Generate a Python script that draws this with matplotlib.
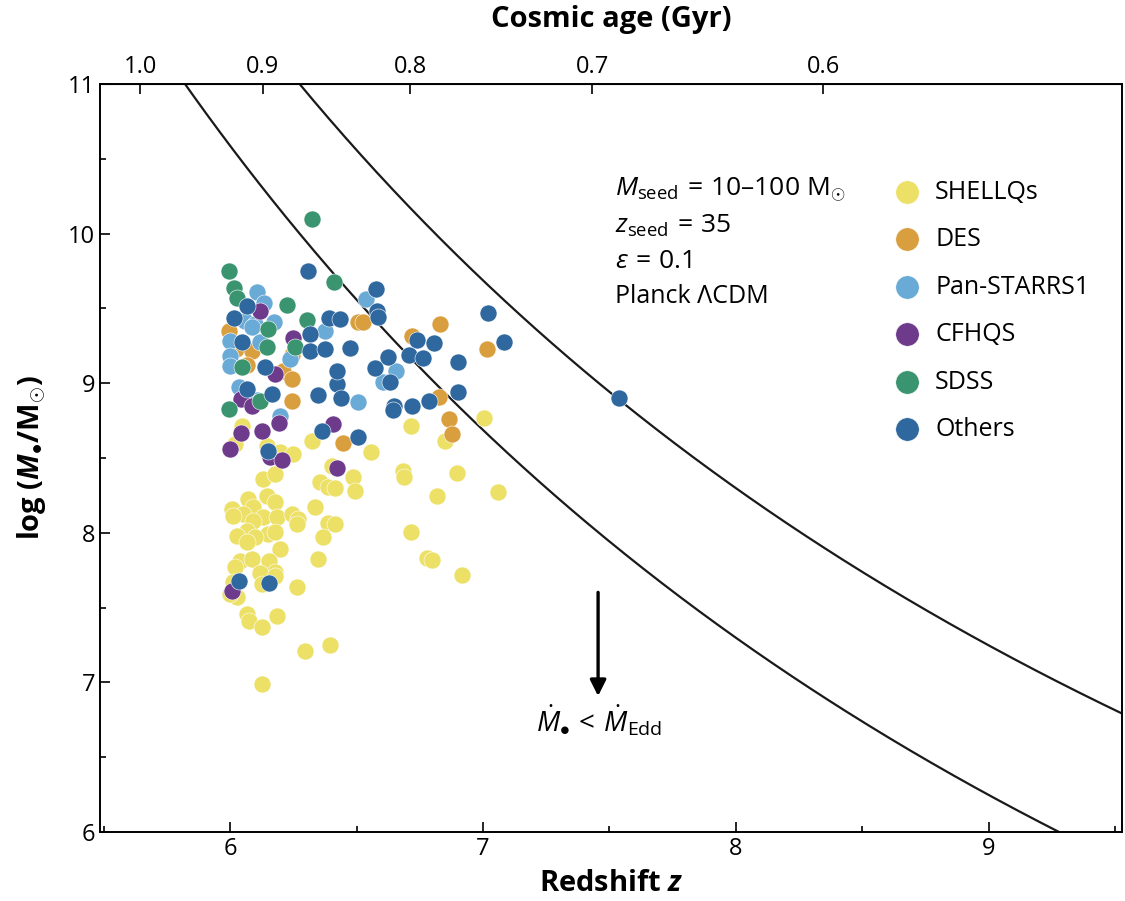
import numpy as np
import matplotlib
matplotlib.use("Agg")
import matplotlib.pyplot as plt

plt.rcParams['font.family'] = ['Open Sans', 'DejaVu Sans']
plt.rcParams['mathtext.fontset'] = 'custom'
plt.rcParams['mathtext.rm'] = 'Open Sans'
plt.rcParams['mathtext.it'] = 'Open Sans:italic'
plt.rcParams['mathtext.bf'] = 'Open Sans:bold'
plt.rcParams['mathtext.bfit'] = 'Open Sans:bold:italic'

# quasar samples: redshift and log black hole mass
shellqs_z = [6.047, 6.324, 6.020, 6.146, 6.198, 6.249, 6.403, 6.130, 6.178, 6.356,
             6.387, 6.071, 6.146, 6.178, 6.008, 6.091, 6.051, 6.012, 6.336, 6.130,
             6.186, 6.245, 6.269, 6.265, 6.091, 6.387, 6.067, 6.028, 6.150, 6.178,
             6.099, 6.067, 6.368, 6.198, 6.040, 6.020, 6.087, 6.154, 6.178, 6.119,
             6.348, 6.012, 6.028, 6.000, 6.126, 6.178, 6.265, 6.067, 6.075, 6.126,
             6.186, 6.296, 6.395, 6.126, 6.557, 6.486, 6.494, 6.684, 6.688, 6.897,
             6.818, 7.059, 6.715, 6.779, 6.798, 6.917, 6.715, 6.850, 7.004, 6.415,
             6.415]
shellqs_m = [8.713, 8.613, 8.593, 8.580, 8.540, 8.527, 8.447, 8.360, 8.393, 8.340,
             8.307, 8.227, 8.247, 8.207, 8.160, 8.173, 8.127, 8.113, 8.173, 8.107,
             8.107, 8.127, 8.093, 8.060, 8.080, 8.067, 8.013, 7.980, 7.993, 8.007,
             7.973, 7.940, 7.973, 7.893, 7.813, 7.773, 7.827, 7.813, 7.740, 7.733,
             7.827, 7.673, 7.573, 7.593, 7.660, 7.713, 7.640, 7.460, 7.407, 7.373,
             7.447, 7.207, 7.247, 6.987, 8.540, 8.373, 8.280, 8.413, 8.373, 8.400,
             8.247, 8.273, 8.007, 7.833, 7.820, 7.720, 8.713, 8.613, 8.767, 8.060,
             8.300]

des_z = [5.996, 6.024, 6.087, 6.245, 6.067, 6.209, 6.245, 6.245, 6.506, 6.526,
         6.830, 6.719, 7.016, 6.826, 6.866, 6.877, 6.447]
des_m = [9.347, 9.227, 9.213, 9.187, 9.120, 9.080, 9.027, 8.880, 9.407, 9.407,
         9.393, 9.313, 9.227, 8.907, 8.760, 8.660, 8.600]

ps1_z = [6.107, 6.134, 6.059, 6.099, 6.174, 6.087, 6.000, 6.119, 6.000, 6.000,
         6.237, 6.375, 6.036, 6.107, 6.198, 6.538, 6.656, 6.605, 6.506]
ps1_m = [9.607, 9.533, 9.413, 9.393, 9.407, 9.373, 9.280, 9.273, 9.180, 9.113,
         9.160, 9.347, 8.973, 8.887, 8.780, 9.560, 9.080, 9.007, 8.873]

cfhqs_z = [6.119, 6.249, 6.178, 6.043, 6.087, 6.194, 6.043, 6.126, 6.407, 6.000,
           6.158, 6.206, 6.423, 6.008]
cfhqs_m = [9.480, 9.300, 9.060, 8.893, 8.847, 8.733, 8.667, 8.680, 8.727, 8.560,
           8.507, 8.487, 8.433, 7.613]

sdss_z = [6.324, 5.996, 6.411, 6.016, 6.028, 6.225, 6.304, 6.150, 6.146, 6.257,
          6.047, 6.119, 5.996]
sdss_m = [10.10, 9.747, 9.673, 9.633, 9.567, 9.520, 9.420, 9.360, 9.240, 9.240,
          9.107, 8.880, 8.827]

others_z = [6.308, 6.577, 6.067, 6.581, 6.585, 6.016, 6.391, 6.435, 6.047, 6.316,
            6.316, 6.375, 6.138, 6.067, 6.166, 6.348, 6.423, 6.423, 6.474, 6.739,
            6.806, 6.625, 6.573, 6.708, 6.763, 6.632, 6.439, 6.648, 6.644, 6.719,
            6.787, 6.901, 6.901, 7.020, 7.083, 7.538, 6.364, 6.506, 6.150, 6.036,
            6.154]
others_m = [9.747, 9.627, 9.513, 9.480, 9.440, 9.433, 9.433, 9.427, 9.273, 9.327,
            9.213, 9.227, 9.107, 8.960, 8.927, 8.920, 8.993, 9.080, 9.233, 9.287,
            9.267, 9.173, 9.100, 9.187, 9.167, 9.007, 8.900, 8.847, 8.820, 8.847,
            8.880, 8.940, 9.140, 9.467, 9.273, 8.900, 8.680, 8.640, 8.547, 7.680,
            7.667]

samples = [
    ("SHELLQs", shellqs_z, shellqs_m, "#ECE067"),
    ("DES", des_z, des_m, "#D99F3E"),
    ("Pan-STARRS1", ps1_z, ps1_m, "#6AAAD6"),
    ("CFHQS", cfhqs_z, cfhqs_m, "#6E3A8C"),
    ("SDSS", sdss_z, sdss_m, "#3A9470"),
    ("Others", others_z, others_m, "#2F689F"),
]

age_ticks = [1.0, 0.9, 0.8, 0.7, 0.6]
seed_masses = [10, 100]
z_seed = 35

# flat LCDM age-redshift relation
H0, Om = 69.4, 0.3
OL = 1 - Om
T = 977.8 / H0 * 2 / (3 * np.sqrt(OL))


def age(z):
    z = np.asarray(z, dtype=float)
    return T * np.arcsinh(np.sqrt(OL / Om) * np.clip(1 + z, 1e-3, None) ** -1.5)


def z_of_age(t):
    t = np.asarray(t, dtype=float)
    s = np.sinh(np.clip(t, 1e-4, None) / T) / np.sqrt(OL / Om)
    return s ** (-2 / 3) - 1


# Eddington-limited growth, e-folding time in Gyr
tau = 0.0383

fig = plt.figure(figsize=(11.25, 9.01), dpi=100)
ax = fig.add_axes([0.0889, 0.0766, 0.9084, 0.8302])

zz = np.linspace(5.4, 9.6, 400)
for ms in seed_masses:
    logm = np.log10(ms) + (age(zz) - age(z_seed)) / (tau * np.log(10))
    ax.plot(zz, logm, color='#1a1a1a', lw=1.6, zorder=2)

for name, z, m, c in samples:
    ax.scatter(z, m, s=150, color=c, edgecolor='white', linewidth=0.4,
               label=name, zorder=3)

ax.set_xlim(5.486, 9.526)
ax.set_ylim(6, 11)
ax.set_xticks([6, 7, 8, 9])
ax.set_xticks([5.5, 6.5, 7.5, 8.5, 9.5], minor=True)
ax.set_yticks([6, 7, 8, 9, 10, 11])
ax.set_yticks([6.5, 7.5, 8.5, 9.5, 10.5], minor=True)
ax.tick_params(axis='both', which='both', direction='in', labelsize=17,
               top=False, right=False)
ax.tick_params(which='major', length=7, width=1.2)
ax.tick_params(which='minor', length=4, width=1.2)
for sp in ax.spines.values():
    sp.set_linewidth(1.4)

ax.set_xlabel(r'Redshift $\boldsymbol{z}$', fontsize=21, fontweight='bold', labelpad=6)
ax.set_ylabel(r'log ($\boldsymbol{M}_{\bullet}$/M$_{\odot}$)', fontsize=21,
              fontweight='bold', labelpad=14)

sec = ax.secondary_xaxis('top', functions=(age, z_of_age))
sec.set_xticks(age_ticks)
sec.set_xticklabels([f'{a:.1f}' for a in age_ticks])
sec.tick_params(direction='in', length=7, width=1.2, labelsize=17)
sec.set_xlabel('Cosmic age (Gyr)', fontsize=21, fontweight='bold', labelpad=20)

# growth model parameters
tx = 7.52
ax.text(tx, 10.29, r'$M_{\mathrm{seed}}\, =\, 10$–$100\ \mathrm{M}_{\odot}$', fontsize=19, va='center')
ax.text(tx, 10.05, r'$z_{\mathrm{seed}}\, =\, 35$', fontsize=19, va='center')
ax.text(tx, 9.81, r'$\varepsilon\, =\, 0.1$', fontsize=19, va='center')
ax.text(tx, 9.58, 'Planck ΛCDM', fontsize=18, va='center')

ax.annotate('', xy=(7.455, 6.89), xytext=(7.455, 7.62),
            arrowprops=dict(arrowstyle='-|>', color='black', lw=2.4,
                            mutation_scale=24))
ax.text(7.46, 6.74, r'$\dot{M}_{\bullet}\, <\, \dot{M}_{\mathrm{Edd}}$', fontsize=20,
        ha='center', va='center')

ax.legend(loc='upper left', bbox_to_anchor=(0.753, 0.889), frameon=False,
          fontsize=18, markerscale=1.38, handletextpad=0.12, labelspacing=0.9,
          borderpad=0, scatterpoints=1)

fig.savefig('out.png', dpi=100)
